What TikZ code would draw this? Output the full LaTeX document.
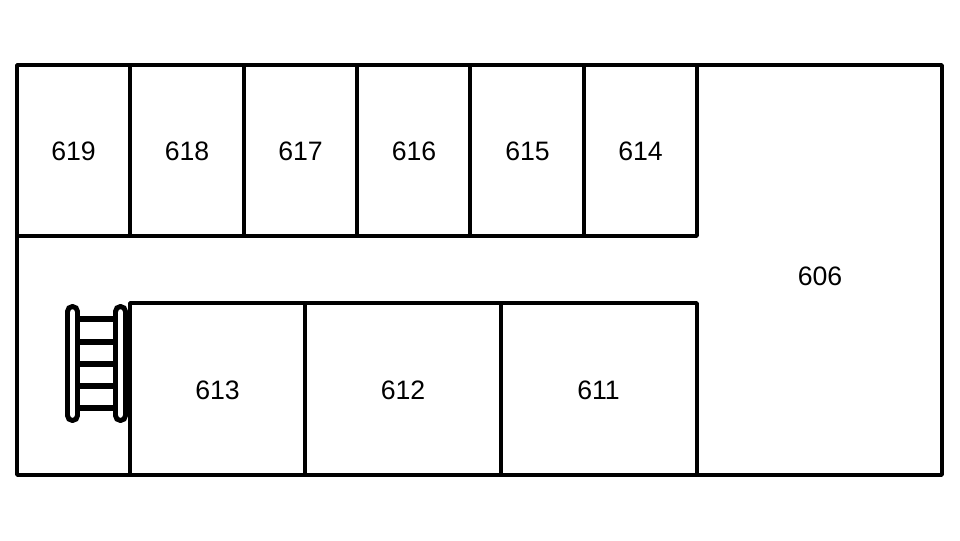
\documentclass[tikz,border=0pt]{standalone}
\usepackage{fontspec}
\setmainfont{Liberation Sans}
\tikzset{
  px/.style={x=0.75pt,y=-0.75pt},
  wall/.style={draw=black,line width=2.7pt,line join=round,line cap=round},
  rail/.style={draw=black,fill=white,line width=3.7pt,rounded corners=3.7pt},
  rung/.style={draw=black,line width=4pt},
  roomlabel/.style={font=\fontsize{20pt}{24pt}\selectfont,text=black,inner sep=0pt}
}
\begin{document}
\begin{tikzpicture}[px]
\useasboundingbox (0,0) rectangle (960,540);
% rungs
\foreach \y in {319,342,364,386,408} \draw[rung] (73,\y) -- (121,\y);
% outer walls
\draw[wall] (17,65) rectangle (942,475);
% upper rooms
\draw[wall] (17,236) -- (697,236) -- (697,65);
\foreach \x in {130,244,357,470,584} \draw[wall] (\x,65) -- (\x,236);
% lower rooms
\draw[wall] (130,475) -- (130,303) -- (697,303) -- (697,475);
\foreach \x in {305,501} \draw[wall] (\x,303) -- (\x,475);
% rails
\draw[rail] (67.5,306.5) rectangle (77.5,420.5);
\draw[rail] (115.5,306.5) rectangle (125.5,420.5);
% labels
\node[roomlabel] (r619) at (73.5,151) {619};
\node[roomlabel] (r618) at (187,151) {618};
\node[roomlabel] (r617) at (300.5,151) {617};
\node[roomlabel] (r616) at (414,151) {616};
\node[roomlabel] (r615) at (527.5,151) {615};
\node[roomlabel] (r614) at (640.5,151) {614};
\node[roomlabel] (r606) at (820,276) {606};
\node[roomlabel] (r613) at (217.5,390) {613};
\node[roomlabel] (r612) at (403,390) {612};
\node[roomlabel] (r611) at (598.5,390) {611};
\end{tikzpicture}
\end{document}
